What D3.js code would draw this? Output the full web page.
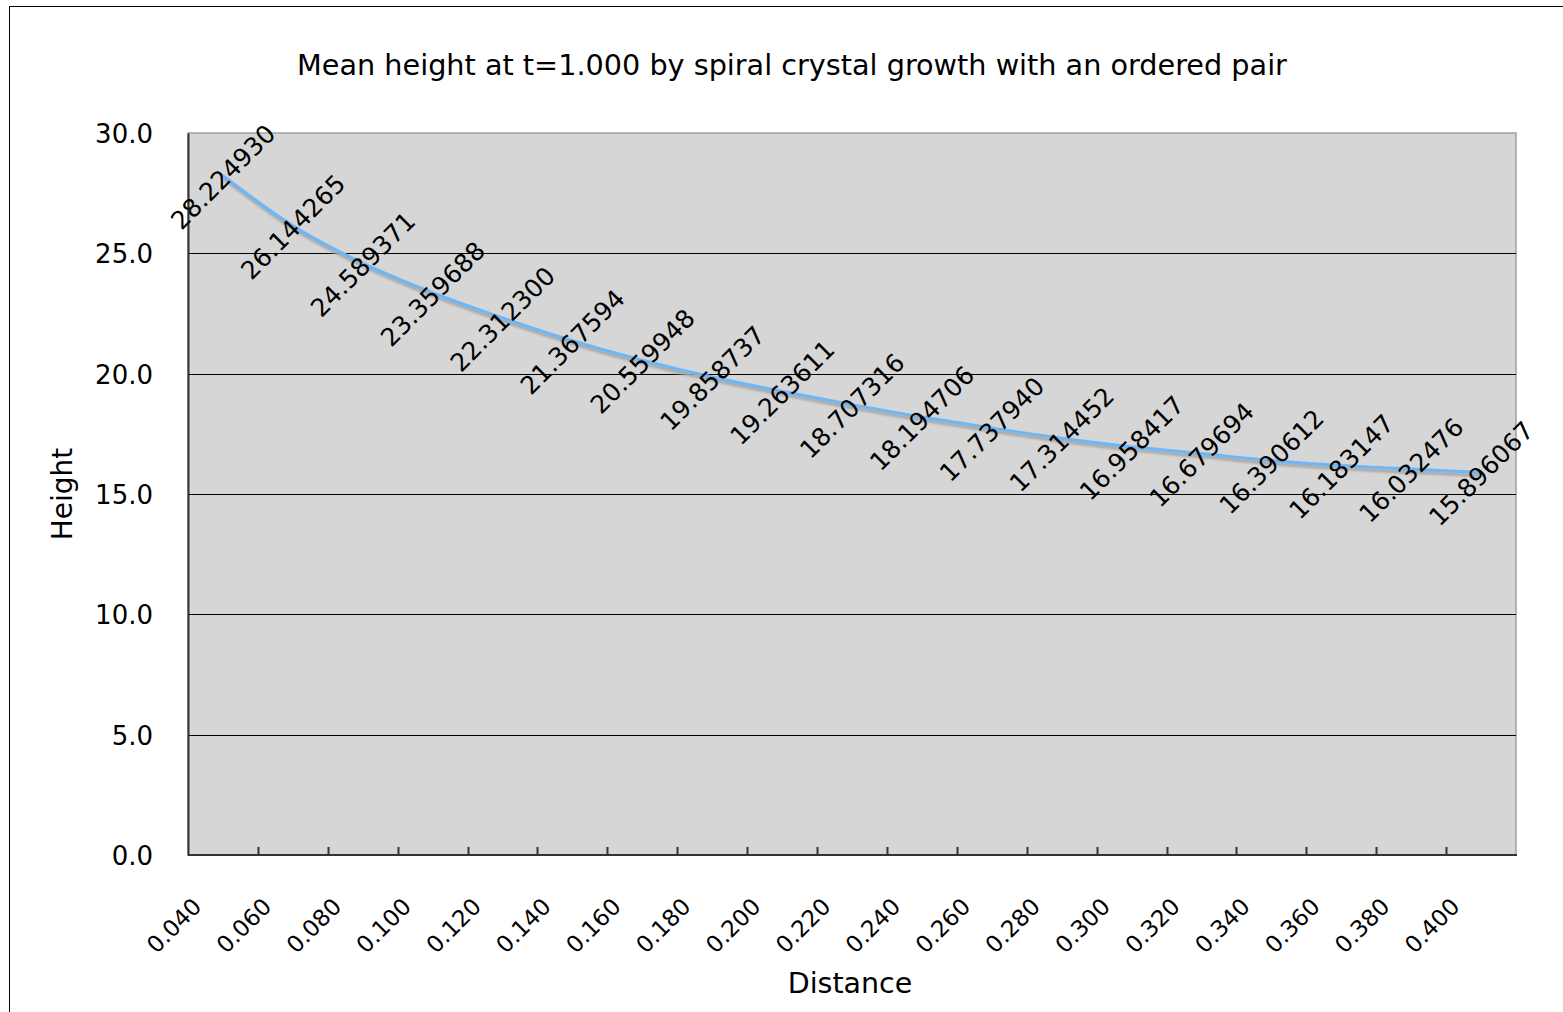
<!DOCTYPE html>
<html>
<head>
<meta charset="utf-8">
<script src="https://cdn.jsdelivr.net/npm/d3@7"></script>
<style>
  html, body { margin: 0; padding: 0; background: #fff; }
  svg { display: block; }
  text { font-family: "DejaVu Sans", "Liberation Sans", sans-serif; fill: #000; }
</style>
</head>
<body>
<svg id="chart" width="1563" height="1012"></svg>
<script>
// Mean height vs. distance between the ordered pair of screw dislocations
const distances = ["0.040","0.060","0.080","0.100","0.120","0.140","0.160","0.180","0.200","0.220",
                   "0.240","0.260","0.280","0.300","0.320","0.340","0.360","0.380","0.400"];
const heights = [28.224930, 26.144265, 24.589371, 23.359688, 22.312300, 21.367594, 20.559948,
                 19.858737, 19.263611, 18.707316, 18.194706, 17.737940, 17.314452, 16.958417,
                 16.679694, 16.390612, 16.183147, 16.032476, 15.896067];
const yTicks = [0, 5, 10, 15, 20, 25, 30];

const titleText = "Mean height at t=1.000 by spiral crystal growth with an ordered pair";
const xTitle = "Distance";
const yTitle = "Height";

const svg = d3.select("#chart");
const W = 1563, H = 1012;
const plot = { left: 188, top: 133, right: 1516, bottom: 855 };

// outer chart frame
svg.append("rect")
  .attr("x", 9.5).attr("y", 6.5)
  .attr("width", W + 10).attr("height", H + 10)
  .attr("fill", "#fff").attr("stroke", "#000").attr("stroke-width", 1);

const x = d3.scaleBand().domain(distances).range([plot.left, plot.right]).padding(0);
const y = d3.scaleLinear().domain([0, 30]).range([plot.bottom, plot.top]);

// plot area background
svg.append("rect")
  .attr("x", plot.left).attr("y", plot.top)
  .attr("width", plot.right - plot.left).attr("height", plot.bottom - plot.top)
  .attr("fill", "#d6d6d6").attr("stroke", "#a0a0a0").attr("stroke-width", 1.5);

// horizontal gridlines
svg.append("g").selectAll("line")
  .data(yTicks.filter(v => v > 0 && v < 30))
  .join("line")
  .attr("x1", plot.left).attr("x2", plot.right)
  .attr("y1", d => Math.round(y(d)) + 0.5).attr("y2", d => Math.round(y(d)) + 0.5)
  .attr("stroke", "#000").attr("stroke-width", 1.2);

// y axis
const yAxis = svg.append("g")
  .attr("transform", `translate(${plot.left},0)`)
  .call(d3.axisLeft(y).tickValues(yTicks).tickFormat(d3.format(".1f")).tickSize(0).tickPadding(35));
yAxis.select(".domain").attr("stroke", "#333").attr("stroke-width", 2);
yAxis.selectAll("text")
  .style("font-size", "26px")
  .attr("dy", "0.36em");

// x axis: ticks at band boundaries, drawn inward
const xAxis = svg.append("g")
  .attr("transform", `translate(0,${plot.bottom})`);
xAxis.append("line")
  .attr("x1", plot.left).attr("x2", plot.right + 1)
  .attr("y1", 0).attr("y2", 0)
  .attr("stroke", "#333").attr("stroke-width", 2);
xAxis.selectAll("line.tick")
  .data(distances.slice(1))
  .join("line")
  .attr("class", "tick")
  .attr("x1", d => Math.round(x(d)) + 0.5).attr("x2", d => Math.round(x(d)) + 0.5)
  .attr("y1", 0).attr("y2", -8)
  .attr("stroke", "#333").attr("stroke-width", 2);
xAxis.selectAll("text")
  .data(distances)
  .join("text")
  .attr("transform", d => `translate(${x(d) + x.bandwidth() / 2 - 20},${53}) rotate(-45)`)
  .attr("text-anchor", "end")
  .style("font-size", "23px")
  .text(d => d);

// series line with soft drop shadow
const defs = svg.append("defs");
const f = defs.append("filter").attr("id", "shadow")
  .attr("x", "-5%").attr("y", "-5%").attr("width", "110%").attr("height", "120%");
f.append("feGaussianBlur").attr("stdDeviation", 1.2);

const line = d3.line()
  .x((d, i) => x(distances[i]) + x.bandwidth() / 2)
  .y(d => y(d))
  .curve(d3.curveCatmullRom.alpha(0.5));

svg.append("path")
  .datum(heights)
  .attr("d", line)
  .attr("transform", "translate(1,3)")
  .attr("fill", "none")
  .attr("stroke", "#a8a8a8")
  .attr("stroke-width", 3.5)
  .attr("filter", "url(#shadow)");

svg.append("path")
  .datum(heights)
  .attr("d", line)
  .attr("fill", "none")
  .attr("stroke", "#6fb6f4")
  .attr("stroke-width", 3.2)
  .attr("stroke-linecap", "round");

// value labels, centred on each point and rotated
svg.append("g").selectAll("text")
  .data(heights)
  .join("text")
  .attr("transform", (d, i) => `translate(${x(distances[i]) + x.bandwidth() / 2},${y(d) + 1}) rotate(-45)`)
  .attr("text-anchor", "middle")
  .attr("dy", "0.36em")
  .style("font-size", "25px")
  .text(d => d.toFixed(6));

// titles
svg.append("text")
  .attr("x", 792).attr("y", 75)
  .attr("text-anchor", "middle")
  .style("font-size", "28.7px")
  .text(titleText);

svg.append("text")
  .attr("x", 850).attr("y", 993)
  .attr("text-anchor", "middle")
  .style("font-size", "28.5px")
  .text(xTitle);

svg.append("text")
  .attr("transform", `translate(72,494) rotate(-90)`)
  .attr("text-anchor", "middle")
  .style("font-size", "28px")
  .text(yTitle);
</script>
</body>
</html>
